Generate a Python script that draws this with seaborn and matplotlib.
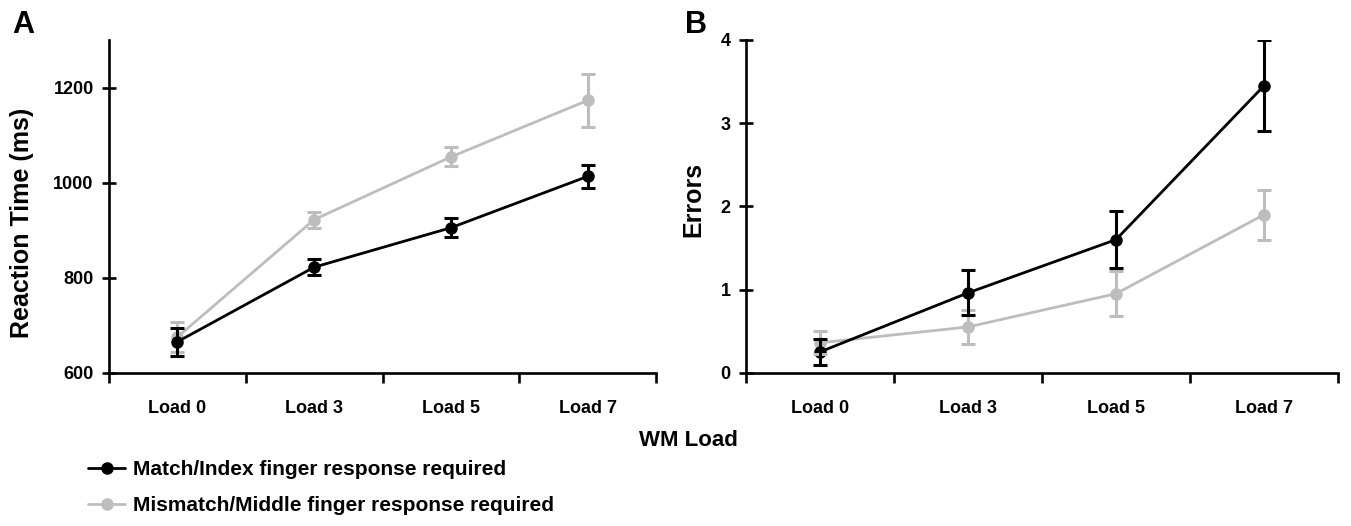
import numpy as np
import pandas as pd
import seaborn as sns
import matplotlib.pyplot as plt
from matplotlib.ticker import FixedLocator

# данные
loads = ['Load 0', 'Load 3', 'Load 5', 'Load 7']
series = ['Match/Index finger response required', 'Mismatch/Middle finger response required']
colors = ['#000000', '#bdbdbd']

rt_match = [665, 822, 905, 1013]
rt_match_err = [30, 17, 20, 25]
rt_mismatch = [675, 922, 1054, 1173]
rt_mismatch_err = [32, 17, 20, 55]

err_match = [0.25, 0.96, 1.60, 3.45]
err_match_err = [0.16, 0.27, 0.34, 0.55]
err_mismatch = [0.36, 0.55, 0.95, 1.90]
err_mismatch_err = [0.14, 0.20, 0.27, 0.30]

sns.set_style('ticks', {'text.color': 'black', 'axes.labelcolor': 'black',
                        'axes.edgecolor': 'black', 'xtick.color': 'black',
                        'ytick.color': 'black'})
plt.rcParams['font.family'] = ['Liberation Sans', 'DejaVu Sans']
plt.rcParams['font.weight'] = 'bold'

W, H = 1351, 526
fig = plt.figure(figsize=(W / 100, H / 100), dpi=100)
axA = fig.add_axes([109 / W, 1 - 372.7 / H, 547 / W, 332.7 / H])
axB = fig.add_axes([746 / W, 1 - 372.7 / H, 592 / W, 332.7 / H])


def draw(ax, m, m_err, mm, mm_err):
    df = pd.DataFrame({
        'load': loads * 2,
        'value': m + mm,
        'cond': [series[0]] * 4 + [series[1]] * 4,
    })
    # серый рисуем первым, чёрный поверх
    sns.pointplot(data=df, x='load', y='value', hue='cond', order=loads,
                  hue_order=[series[1], series[0]],
                  palette={series[0]: colors[0], series[1]: colors[1]},
                  errorbar=None, markers='o', markersize=7.5, linewidth=2,
                  ax=ax)
    x = np.arange(len(loads))
    ax.errorbar(x, mm, yerr=mm_err, fmt='none', ecolor=colors[1],
                elinewidth=2.2, capsize=5, capthick=2.2, zorder=2)
    ax.errorbar(x, m, yerr=m_err, fmt='none', ecolor=colors[0],
                elinewidth=2.2, capsize=5, capthick=2.2, zorder=3)
    ax.get_legend().remove()
    sns.despine(ax=ax)
    for s in ['left', 'bottom']:
        ax.spines[s].set_linewidth(1.9)
        ax.spines[s].set_color('black')
    ax.set_xlim(-0.5, 3.5)
    ax.xaxis.set_major_locator(FixedLocator([-0.5, 0.5, 1.5, 2.5, 3.5]))
    ax.set_xticklabels([])
    ax.xaxis.set_minor_locator(FixedLocator(x))
    ax.set_xticklabels(loads, minor=True)
    ax.tick_params(axis='x', which='major', direction='out', length=7, width=1.9,
                   color='black')
    ax.tick_params(axis='x', which='minor', length=0, pad=20, labelsize=13,
                   labelcolor='black')
    ax.tick_params(axis='y', direction='inout', length=10, width=1.9,
                   pad=6, labelsize=13, color='black', labelcolor='black')
    ax.set_xlabel('')


draw(axA, rt_match, rt_match_err, rt_mismatch, rt_mismatch_err)
axA.set_ylim(600, 1300)
axA.set_yticks([600, 800, 1000, 1200])
axA.set_ylabel('Reaction Time (ms)', fontsize=18, fontweight='bold', color='black')
axA.yaxis.set_label_coords(-0.137, 0.45)

draw(axB, err_match, err_match_err, err_mismatch, err_mismatch_err)
axB.set_ylim(0, 4)
axB.set_yticks([0, 1, 2, 3, 4])
axB.set_ylabel('Errors', fontsize=18, fontweight='bold', color='black')
axB.yaxis.set_label_coords(-0.069, 0.52)

fig.text(12 / W, 1 - 33 / H, 'A', fontsize=22, fontweight='bold', va='baseline',
         color='black')
fig.text(685 / W, 1 - 33 / H, 'B', fontsize=22, fontweight='bold', va='baseline',
         color='black')
fig.text(688 / W, 1 - 441 / H, 'WM Load', fontsize=16, fontweight='bold',
         ha='center', va='center', color='black')

handles, labels = axA.get_legend_handles_labels()
if not handles:
    from matplotlib.lines import Line2D
    handles = [Line2D([], [], color=c, marker='o', lw=2, markersize=7.5) for c in colors[::-1]]
    labels = series[::-1]
leg = fig.legend(handles[::-1], labels[::-1], loc='center left',
                 bbox_to_anchor=(88 / W, 1 - 487.5 / H), frameon=False,
                 borderaxespad=0, borderpad=0, handlelength=1.8, handletextpad=0.35,
                 labelspacing=0.8, prop={'size': 15, 'weight': 'bold'})
for t in leg.get_texts():
    t.set_color('black')

fig.savefig('out.png', dpi=100)
